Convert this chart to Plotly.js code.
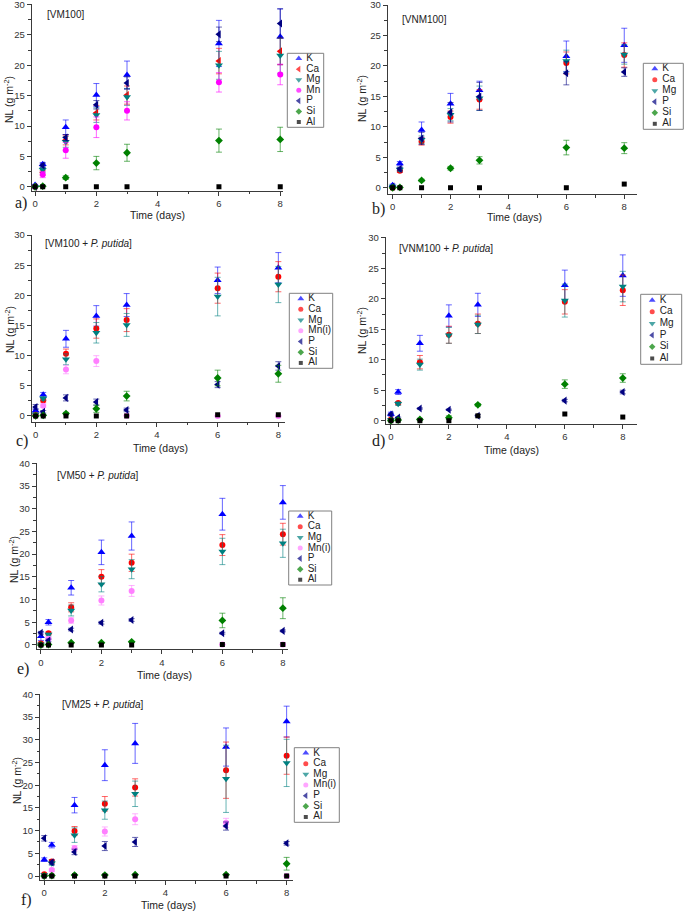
<!DOCTYPE html>
<html>
<head>
<meta charset="utf-8">
<script src="https://cdn.plot.ly/plotly-3.0.1.min.js"></script>
<style>html,body{margin:0;padding:0;background:#fff}#chart{width:685px;height:911px}</style>
</head>
<body>
<div id="chart"></div>
<script>
// ---------- DATA ----------
const days = [0, 0.25, 1, 2, 3, 6, 8];

// a) [VM100]
const aK   = [0.3, 3.7, 9.8, 15.1, 18.4, 23.6, 24.7];
const aKe  = [0.1, 0.3, 1.2, 1.9, 2.3, 3.8, 4.6];
const aCa  = [0, 2.3, 7.7, 12.2, 15.1, 20.7, 22.3];
const aCae = [0, 0.4, 0.8, 1.2, 1.5, 2.1, 2.2];
const aMg  = [0, 2.8, 7.4, 11.8, 14.8, 20.0, 21.6];
const aMge = [0, 0.4, 0.9, 1.2, 1.4, 2.3, 2.9];
const aMn  = [0, 2.0, 6.0, 9.8, 12.5, 17.2, 18.5];
const aMne = [0, 0.5, 1.3, 1.7, 1.5, 1.6, 1.7];
const aP   = [0, 3.5, 8.1, 13.5, 17.1, 25.1, 26.9];
const aPe  = [0, 0.3, 0.5, 0.7, 1.0, 1.2, 2.4];
const aSi  = [0, 0.1, 1.5, 3.9, 5.6, 7.6, 7.8];
const aSie = [0, 0, 0.3, 1.1, 1.4, 1.9, 2.0];
const aAl  = [0, 0, 0, 0, 0, 0, 0];

// b) [VNM100]
const bK   = [0.4, 4.0, 9.5, 13.8, 16.0, 21.6, 23.4];
const bKe  = [0.2, 0.3, 1.3, 1.7, 1.5, 2.5, 2.8];
const bCa  = [0, 2.8, 7.6, 11.6, 14.5, 20.5, 21.8];
const bCae = [0, 0.3, 0.6, 1.0, 1.6, 1.8, 2.0];
const bMg  = [0.2, 3.0, 7.9, 12.0, 14.7, 20.8, 21.9];
const bMge = [0, 0.3, 0.6, 1.0, 2.0, 1.8, 1.6];
const bP   = [0.2, 3.1, 8.1, 12.4, 15.0, 18.8, 19.0];
const bPe  = [0, 0.3, 1.0, 1.6, 2.3, 1.9, 0.7];
const bSi  = [0, 0.05, 1.2, 3.2, 4.5, 6.6, 6.5];
const bSie = [0, 0, 0.2, 0.3, 0.6, 1.2, 0.9];
const bAl  = [0, 0, 0, 0, 0, 0, 0.6];

// c) [VM100 + P. putida]
const cK   = [0.9, 3.5, 12.8, 16.6, 18.4, 22.5, 24.6];
const cKe  = [0.3, 0.4, 1.4, 1.7, 1.9, 2.2, 2.5];
const cCa  = [0.2, 2.6, 10.3, 14.5, 15.9, 21.2, 23.1];
const cCae = [0.1, 0.3, 0.8, 1.6, 1.9, 2.5, 2.5];
const cMg  = [0.3, 2.9, 9.4, 13.8, 15.1, 19.8, 21.8];
const cMge = [0.1, 0.3, 0.9, 1.7, 1.9, 3.2, 3.0];
const cMn  = [0, 1.7, 7.7, 9.1, 0.05, 0, 0];
const cMne = [0, 0.3, 0.7, 0.9, 0, 0, 0];
const cP   = [1.5, 0.7, 3.0, 2.3, 1.0, 5.2, 8.3];
const cPe  = [0.4, 0.2, 0.5, 0.5, 0.3, 0.5, 0.7];
const cSi  = [0, 0.1, 0.4, 1.2, 3.3, 6.3, 7.0];
const cSie = [0, 0, 0.2, 0.6, 0.8, 1.3, 1.4];
const cAl  = [0, 0, 0, 0, 0, 0.2, 0.2];

// d) [VNM100 + P. putida]
const dK   = [1.1, 4.7, 12.7, 17.2, 19.0, 22.2, 23.8];
const dKe  = [0.3, 0.4, 1.3, 1.8, 1.9, 2.5, 3.4];
const dCa  = [0.2, 2.9, 9.6, 14.1, 15.9, 19.5, 21.4];
const dCae = [0.1, 0.2, 1.1, 1.4, 1.6, 2.0, 2.5];
const dMg  = [0.1, 2.8, 9.2, 14.0, 15.8, 19.7, 22.0];
const dMge = [0.1, 0.3, 0.9, 1.3, 1.5, 2.7, 2.5];
const dP   = [1.0, 0.5, 2.0, 1.8, 0.8, 3.3, 4.7];
const dPe  = [0.2, 0.1, 0.1, 0.1, 0.2, 0.2, 0.3];
const dSi  = [0, 0.1, 0.2, 0.5, 2.6, 6.0, 7.0];
const dSie = [0, 0.1, 0.2, 0.3, 0.2, 0.7, 0.7];
const dAl  = [0, 0, 0, 0, 0.8, 1.1, 0.6];

// e) [VM50 + P. putida]
const eK   = [1.9, 5.0, 12.6, 20.4, 24.0, 28.8, 31.4];
const eKe  = [0.9, 0.6, 1.6, 2.7, 3.1, 3.5, 3.7];
const eCa  = [0.3, 2.6, 8.3, 15.0, 18.1, 22.0, 24.4];
const eCae = [0.1, 0.3, 1.0, 1.6, 1.9, 2.3, 2.4];
const eMg  = [0.1, 2.3, 7.6, 13.4, 16.7, 20.6, 22.4];
const eMge = [0.1, 0.3, 1.2, 1.7, 2.1, 2.9, 3.1];
const eMn  = [0, 1.4, 5.4, 9.8, 11.9, 0.1, 0.1];
const eMne = [0, 0.3, 0.6, 1.0, 1.2, 0, 0];
const eP   = [2.7, 1.0, 3.4, 4.9, 5.5, 2.6, 3.1];
const ePe  = [0.3, 0.3, 0.3, 0.3, 0.3, 0.2, 0.2];
const eSi  = [0, 0.1, 0.5, 0.5, 0.7, 5.4, 8.1];
const eSie = [0, 0, 0.1, 0.1, 0.1, 1.6, 2.3];
const eAl  = [0, 0, 0, 0, 0, 0.1, 0.1];

// f) [VM25 + P. putida]
const fK   = [3.6, 6.8, 15.6, 24.4, 29.2, 28.4, 34.0];
const fKe  = [0.4, 0.6, 1.7, 3.4, 4.4, 4.2, 3.4];
const fCa  = [0.4, 3.2, 9.9, 15.9, 19.5, 23.3, 26.5];
const fCae = [0.2, 0.4, 1.0, 1.6, 1.9, 6.2, 4.1];
const fMg  = [0.2, 2.8, 9.0, 14.5, 18.1, 21.4, 24.9];
const fMge = [0.1, 0.4, 1.6, 2.0, 2.8, 7.4, 5.2];
const fMn  = [0, 1.3, 6.1, 9.8, 12.5, 11.7, 0];
const fMne = [0, 0.3, 0.6, 1.0, 1.2, 1.0, 0];
const fP   = [8.3, 3.0, 5.3, 6.6, 7.5, 11.0, 7.2];
const fPe  = [0.6, 0.5, 0.6, 1.0, 1.0, 0.9, 0.4];
const fSi  = [0, 0.1, 0.2, 0.2, 0.3, 0.3, 2.7];
const fSie = [0, 0, 0, 0, 0, 0, 1.4];
const fAl  = [0, 0, 0, 0, 0, 0, 0];

const xTitle = 'Time (days)';
const yTitle = 'NL (g m<sup>-2</sup>)';

// ---------- STYLES ----------
const styles = {
  K:    {symbol: 'triangle-up',   color: '#0000ff', size: 7},
  CaT:  {symbol: 'triangle-left', color: '#ff0000', size: 7},
  Ca:   {symbol: 'circle',        color: '#ff0000', size: 6},
  Mg:   {symbol: 'triangle-down', color: '#008080', size: 7},
  Mn:   {symbol: 'circle',        color: '#ff00ff', size: 6},
  Mni:  {symbol: 'circle',        color: '#ff80ff', size: 6},
  P:    {symbol: 'triangle-left', color: '#000080', size: 7},
  Si:   {symbol: 'diamond',       color: '#008000', size: 6},
  Al:   {symbol: 'square',        color: '#000000', size: 5}
};
function rgba(hex, a) {
  const n = parseInt(hex.slice(1), 16);
  return 'rgba(' + (n >> 16 & 255) + ',' + (n >> 8 & 255) + ',' + (n & 255) + ',' + a + ')';
}

// ---------- PANELS (geometry in page pixels) ----------
const panels = [
  {tag: '[VM100]', label: 'a)', box: [31.7, 283.3, 4, 190.7], xr: [-0.11, 8.1], yr: [-0.65, 30.1],
   leg: [287.3, 323.7, 53.3, 127.3], tagPos: [45, 15], labPos: [21, 203], xtPos: [157, 215], ytPos: [9, 100],
   series: [['K', aK, aKe, 'K'], ['Ca', aCa, aCae, 'CaT'], ['Mg', aMg, aMge, 'Mg'], ['Mn', aMn, aMne, 'Mn'],
            ['P', aP, aPe, 'P'], ['Si', aSi, aSie, 'Si'], ['Al', aAl, null, 'Al']]},
  {tag: '[VNM100]', label: 'b)', box: [387.7, 636.7, 4.5, 194], xr: [-0.17, 8.43], yr: [-1.03, 30.1],
   leg: [643.3, 683.3, 63.3, 129.3], tagPos: [400, 20], labPos: [378, 209], xtPos: [514, 217], ytPos: [361, 98],
   series: [['K', bK, bKe, 'K'], ['Ca', bCa, bCae, 'Ca'], ['Mg', bMg, bMge, 'Mg'],
            ['P', bP, bPe, 'P'], ['Si', bSi, bSie, 'Si'], ['Al', bAl, null, 'Al']]},
  {tag: '[VM100 + <i>P. putida</i>]', label: 'c)', box: [31.7, 285, 234.5, 421.7], xr: [-0.13, 8.22], yr: [-0.95, 30.1],
   leg: [289.3, 332.7, 293.3, 368.3], tagPos: [43, 243], labPos: [22, 441], xtPos: [160, 448], ytPos: [9, 330],
   series: [['K', cK, cKe, 'K'], ['Ca', cCa, cCae, 'Ca'], ['Mg', cMg, cMge, 'Mg'], ['Mn(i)', cMn, cMne, 'Mni'],
            ['P', cP, cPe, 'P'], ['Si', cSi, cSie, 'Si'], ['Al', cAl, null, 'Al']]},
  {tag: '[VNM100 + <i>P. putida</i>]', label: 'd)', box: [385.7, 636.7, 237.2, 424], xr: [-0.18, 8.48], yr: [-0.54, 30.1],
   leg: [640.7, 681.7, 294.3, 364.3], tagPos: [397, 249], labPos: [378, 441], xtPos: [512, 450], ytPos: [361, 330],
   series: [['K', dK, dKe, 'K'], ['Ca', dCa, dCae, 'Ca'], ['Mg', dMg, dMge, 'Mg'],
            ['P', dP, dPe, 'P'], ['Si', dSi, dSie, 'Si'], ['Al', dAl, null, 'Al']]},
  {tag: '[VM50 + <i>P. putida</i>]', label: 'e)', box: [36.7, 288.3, 462.9, 649.3], xr: [-0.14, 8.18], yr: [-0.95, 40.1],
   leg: [288.7, 331.7, 511, 585], tagPos: [55, 475], labPos: [23, 669], xtPos: [164, 675], ytPos: [13, 560],
   series: [['K', eK, eKe, 'K'], ['Ca', eCa, eCae, 'Ca'], ['Mg', eMg, eMge, 'Mg'], ['Mn(i)', eMn, eMne, 'Mni'],
            ['P', eP, ePe, 'P'], ['Si', eSi, eSie, 'Si'], ['Al', eAl, null, 'Al']]},
  {tag: '[VM25 + <i>P. putida</i>]', label: 'f)', box: [40, 293, 693.9, 880], xr: [-0.14, 8.21], yr: [-0.88, 40.1],
   leg: [294.3, 339.3, 747.7, 822.3], tagPos: [60, 704], labPos: [26, 900], xtPos: [168, 905], ytPos: [16, 780],
   series: [['K', fK, fKe, 'K'], ['Ca', fCa, fCae, 'Ca'], ['Mg', fMg, fMge, 'Mg'], ['Mn(i)', fMn, fMne, 'Mni'],
            ['P', fP, fPe, 'P'], ['Si', fSi, fSie, 'Si'], ['Al', fAl, null, 'Al']]}
];

// ---------- BUILD ----------
const W = 685, H = 911;
const px = x => x / W;
const py = y => 1 - y / H;
const FONT = 'Liberation Sans, Arial, sans-serif';
const AXC = '#3a3a3a';
const traces = [];
const layout = {
  width: W, height: H, margin: {l: 0, r: 0, t: 0, b: 0},
  paper_bgcolor: '#fff', plot_bgcolor: 'rgba(0,0,0,0)',
  showlegend: false, font: {family: FONT, color: '#222'},
  annotations: [], shapes: []
};

panels.forEach((p, i) => {
  const n = i + 1, ln = i + 7;
  const xa = 'xaxis' + (n === 1 ? '' : n), ya = 'yaxis' + (n === 1 ? '' : n);
  const xid = 'x' + (n === 1 ? '' : n), yid = 'y' + (n === 1 ? '' : n);
  const tick = {family: FONT, size: 9.5, color: '#333'};
  layout[xa] = {domain: [px(p.box[0]), px(p.box[1])], range: p.xr, anchor: yid,
    showline: true, linecolor: AXC, linewidth: 1, mirror: false, showgrid: false, zeroline: false,
    ticks: 'outside', ticklen: 4, tickwidth: 1, tickcolor: AXC, tick0: 0, dtick: 2,
    minor: {dtick: 1, tick0: 0, ticks: 'outside', ticklen: 2.5, tickcolor: AXC, showgrid: false},
    tickfont: tick, ticklabeloverflow: 'allow', fixedrange: true};
  layout[ya] = {domain: [py(p.box[3]), py(p.box[2])], range: p.yr, anchor: xid,
    showline: true, linecolor: AXC, linewidth: 1, mirror: false, showgrid: false, zeroline: false,
    ticks: 'outside', ticklen: 4, tickwidth: 1, tickcolor: AXC, tick0: 0, dtick: 5,
    minor: {dtick: 2.5, tick0: 0, ticks: 'outside', ticklen: 2.5, tickcolor: AXC, showgrid: false},
    tickfont: tick, ticklabeloverflow: 'allow', fixedrange: true};

  p.series.forEach(s => {
    const st = styles[s[3]];
    const t = {type: 'scatter', mode: 'markers', name: s[0], x: days, y: s[1], xaxis: xid, yaxis: yid,
      marker: {symbol: st.symbol, color: st.color, size: st.size, line: {width: 0}}, cliponaxis: false};
    if (s[2]) t.error_y = {type: 'data', array: s[2], visible: true, color: rgba(st.color, 0.6), thickness: 1, width: 3};
    traces.push(t);
  });

  // legend (own hidden axes, boxed with a shape)
  const lxa = 'xaxis' + ln, lya = 'yaxis' + ln, lx = 'x' + ln, ly = 'y' + ln;
  const bw = p.leg[1] - p.leg[0];
  const names = p.series.map(s => s[0]);
  const idx = names.map((_, k) => k);
  layout[lxa] = {domain: [px(p.leg[0]), px(p.leg[1])], range: [0, bw], anchor: ly, visible: false, fixedrange: true};
  layout[lya] = {domain: [py(p.leg[3]), py(p.leg[2])], range: [names.length - 0.5, -0.5], anchor: lx, visible: false, fixedrange: true};
  layout.shapes.push({type: 'rect', xref: 'paper', yref: 'paper',
    x0: px(p.leg[0]), x1: px(p.leg[1]), y0: py(p.leg[3]), y1: py(p.leg[2]),
    line: {color: '#808080', width: 1}, fillcolor: 'rgba(0,0,0,0)'});
  traces.push({type: 'scatter', mode: 'markers', x: idx.map(() => 11.5), y: idx, xaxis: lx, yaxis: ly,
    marker: {symbol: p.series.map(s => styles[s[3]].symbol), color: p.series.map(s => styles[s[3]].color),
             size: p.series.map(s => styles[s[3]].size - 1), line: {width: 0}}, hoverinfo: 'skip', cliponaxis: false});
  traces.push({type: 'scatter', mode: 'text', x: idx.map(() => 19), y: idx, xaxis: lx, yaxis: ly,
    text: names, textposition: 'middle right', textfont: {family: FONT, size: 10, color: '#222'},
    hoverinfo: 'skip', cliponaxis: false});

  // texts
  layout.annotations.push(
    {xref: 'paper', yref: 'paper', x: px(p.tagPos[0]), y: py(p.tagPos[1]), xanchor: 'left', yanchor: 'middle',
     text: p.tag, showarrow: false, font: {family: FONT, size: 10, color: '#222'}},
    {xref: 'paper', yref: 'paper', x: px(p.labPos[0]), y: py(p.labPos[1]), xanchor: 'center', yanchor: 'middle',
     text: p.label, showarrow: false, font: {family: 'Liberation Serif, Times New Roman, serif', size: 16, color: '#222'}},
    {xref: 'paper', yref: 'paper', x: px(p.xtPos[0]), y: py(p.xtPos[1]), xanchor: 'center', yanchor: 'middle',
     text: xTitle, showarrow: false, font: {family: FONT, size: 10.5, color: '#222'}},
    {xref: 'paper', yref: 'paper', x: px(p.ytPos[0]), y: py(p.ytPos[1]), xanchor: 'center', yanchor: 'middle',
     text: yTitle, textangle: -90, showarrow: false, font: {family: FONT, size: 10.5, color: '#222'}}
  );
});

Plotly.newPlot('chart', traces, layout, {displayModeBar: false, staticPlot: true});
</script>
</body>
</html>
